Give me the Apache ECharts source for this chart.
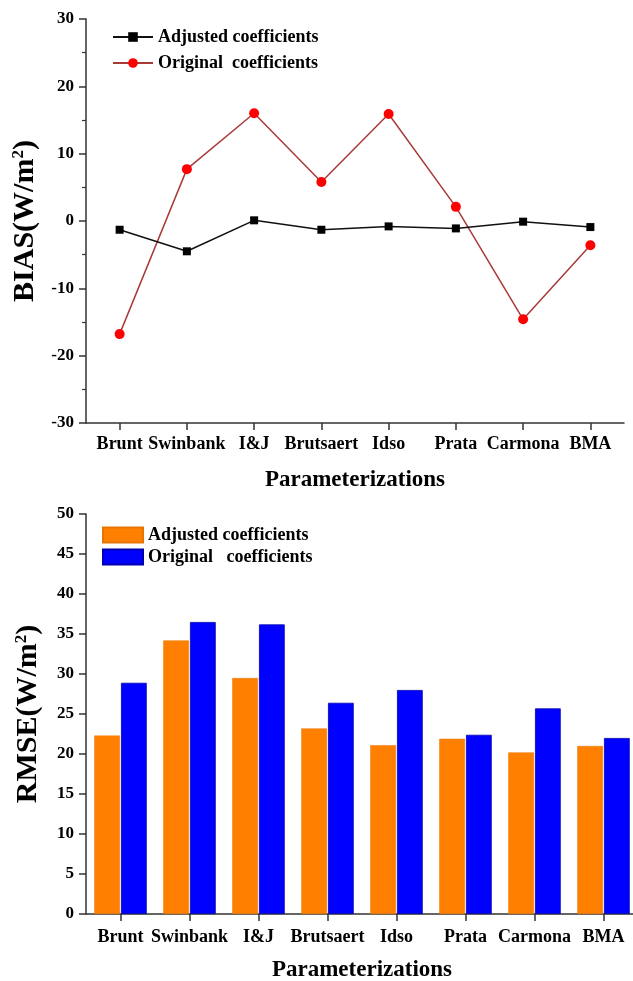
<!DOCTYPE html>
<html>
<head>
<meta charset="utf-8">
<script src="https://cdn.jsdelivr.net/npm/echarts@6/dist/echarts.min.js"></script>
<style>
html,body{margin:0;padding:0;background:#fff;}
#main{width:633px;height:981px;}
</style>
</head>
<body>
<div id="main"></div>
<script>
var categories = ['Brunt', 'Swinbank', 'I&J', 'Brutsaert', 'Idso', 'Prata', 'Carmona', 'BMA'];
var biasAdjusted = [-1.3, -4.5, 0.1, -1.3, -0.8, -1.1, -0.1, -0.9];
var biasOriginal = [-16.8, 7.7, 16.0, 5.8, 15.9, 2.1, -14.6, -3.6];
var rmseAdjusted = [22.3, 34.2, 29.5, 23.2, 21.1, 21.9, 20.2, 21.0];
var rmseOriginal = [28.9, 36.5, 36.2, 26.4, 28.0, 22.4, 25.7, 22.0];
var lineNames = ['Adjusted coefficients', 'Original  coefficients'];
var barNames = ['Adjusted coefficients ', 'Original   coefficients'];

var FONT = 'Liberation Serif';
var AXC = '#333';
var chart = echarts.init(document.getElementById('main'), null, {renderer: 'canvas'});

function yAxisCommon(gridIndex, min, max, interval, name, minor) {
  return {
    type: 'value', gridIndex: gridIndex, min: min, max: max, interval: interval,
    name: name, nameLocation: 'middle', nameGap: 42, nameRotate: 90,
    nameTextStyle: {
      fontFamily: FONT, fontWeight: 'bold', fontSize: 30, color: '#000',
      rich: {sup: {fontFamily: FONT, fontWeight: 'bold', fontSize: 17, color: '#000', verticalAlign: 'top', padding: [0, 0, 14, 0]}}
    },
    axisLine: {show: true, lineStyle: {color: AXC, width: 1.5}},
    axisTick: {show: true, inside: false, length: 7, lineStyle: {color: AXC, width: 1.5}},
    minorTick: {show: !!minor, splitNumber: 2, length: 4, lineStyle: {color: AXC, width: 1.2}},
    splitLine: {show: false},
    axisLabel: {fontFamily: FONT, fontWeight: 'bold', fontSize: 17, color: '#000', margin: 12}
  };
}
function xAxisCommon(gridIndex, margin, nameGap) {
  return {
    type: 'category', gridIndex: gridIndex, data: categories, boundaryGap: true,
    name: 'Parameterizations', nameLocation: 'middle', nameGap: nameGap,
    nameTextStyle: {fontFamily: FONT, fontWeight: 'bold', fontSize: 23, color: '#000'},
    axisLine: {show: true, onZero: false, lineStyle: {color: AXC, width: 1.5}},
    axisTick: {show: true, alignWithLabel: true, inside: false, length: 7, lineStyle: {color: AXC, width: 1.5}},
    splitLine: {show: false},
    axisLabel: {fontFamily: FONT, fontWeight: 'bold', fontSize: 18, color: '#000', margin: margin, interval: 0}
  };
}

var option = {
  backgroundColor: '#fff',
  animation: false,
  grid: [
    {left: 86, right: 9, top: 19, height: 404, containLabel: false, outerBoundsMode: 'none'},
    {left: 86, width: 552, top: 514, height: 400, containLabel: false, outerBoundsMode: 'none'}
  ],
  legend: [
    {
      orient: 'vertical', left: 107, top: 23, itemWidth: 40, itemHeight: 12, itemGap: 8,
      data: [lineNames[0], lineNames[1]],
      textStyle: {fontFamily: FONT, fontWeight: 'bold', fontSize: 18, color: '#000'}
    },
    {
      orient: 'vertical', left: 97, top: 521, itemWidth: 40, itemHeight: 15, itemGap: 4,
      data: [{name: barNames[0], icon: 'rect'}, {name: barNames[1], icon: 'rect'}],
      textStyle: {fontFamily: FONT, fontWeight: 'bold', fontSize: 18, color: '#000'}
    }
  ],
  xAxis: [xAxisCommon(0, 12, 46), xAxisCommon(1, 14, 45)],
  yAxis: [
    yAxisCommon(0, -30, 30, 10, 'BIAS(W/m{sup|2})', true),
    yAxisCommon(1, 0, 50, 5, 'RMSE(W/m{sup|2})', false)
  ],
  series: [
    {
      name: lineNames[0], type: 'line', xAxisIndex: 0, yAxisIndex: 0,
      data: biasAdjusted, symbol: 'rect', symbolSize: 8,
      itemStyle: {color: '#000'}, lineStyle: {color: '#111', width: 1.5}, z: 3
    },
    {
      name: lineNames[1], type: 'line', xAxisIndex: 0, yAxisIndex: 0,
      data: biasOriginal, symbol: 'circle', symbolSize: 10,
      itemStyle: {color: '#ff0000'}, lineStyle: {color: '#a83a3a', width: 1.5}, z: 2
    },
    {
      name: barNames[0], type: 'bar', xAxisIndex: 1, yAxisIndex: 1,
      data: rmseAdjusted, barGap: '4%', barCategoryGap: '24%',
      itemStyle: {color: '#ff8000', borderColor: '#e87400', borderWidth: 0.5}
    },
    {
      name: barNames[1], type: 'bar', xAxisIndex: 1, yAxisIndex: 1,
      data: rmseOriginal, barGap: '4%', barCategoryGap: '24%',
      itemStyle: {color: '#0000ff', borderColor: '#0000b0', borderWidth: 0.8}
    }
  ]
};
chart.setOption(option);
</script>
</body>
</html>
